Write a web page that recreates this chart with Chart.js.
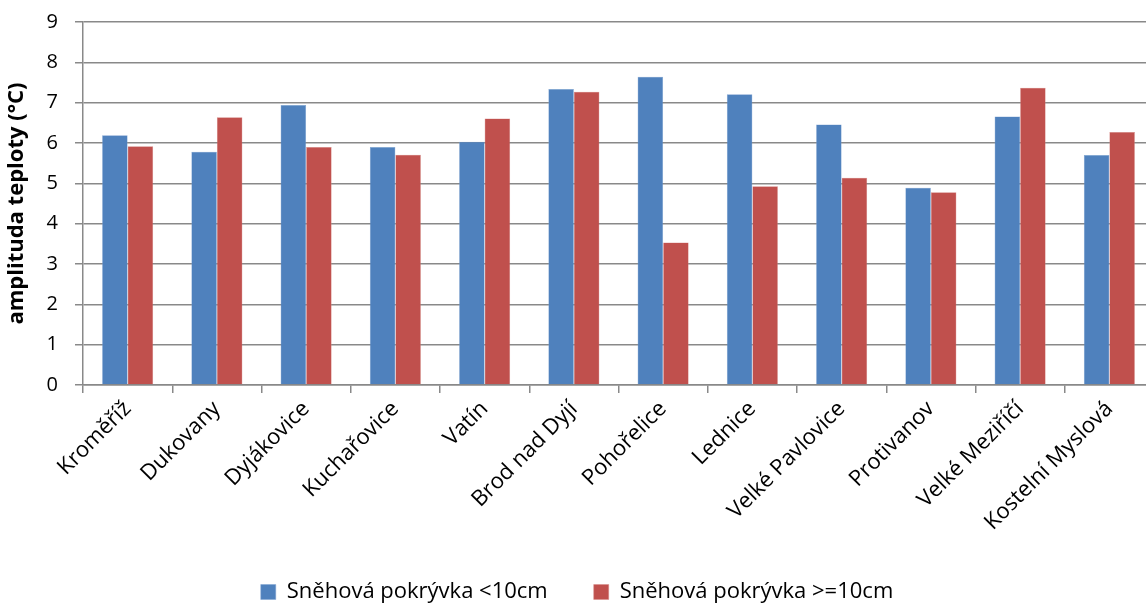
<!DOCTYPE html>
<html>
<head>
<meta charset="utf-8">
<script src="https://cdn.jsdelivr.net/npm/chart.js@4/dist/chart.umd.min.js"></script>
<style>
  html, body { margin: 0; padding: 0; background: #fff; overflow: hidden; }
  #wrap { width: 1154px; height: 607px; }
</style>
</head>
<body>
<div id="wrap"><canvas id="c"></canvas></div>
<script>
const stations = ['Kroměříž', 'Dukovany', 'Dyjákovice', 'Kuchařovice', 'Vatín', 'Brod nad Dyjí',
  'Pohořelice', 'Lednice', 'Velké Pavlovice', 'Protivanov', 'Velké Meziříčí', 'Kostelní Myslová'];
const snowBelow10 = [6.19, 5.78, 6.94, 5.90, 6.03, 7.34, 7.64, 7.21, 6.46, 4.89, 6.66, 5.70];
const snowAbove10 = [5.92, 6.64, 5.90, 5.71, 6.61, 7.27, 3.53, 4.93, 5.14, 4.78, 7.37, 6.27];
const seriesNames = ['Sněhová pokrývka <10cm', 'Sněhová pokrývka >=10cm'];

const FONT = "'Open Sans', 'Noto Sans', sans-serif";
const gridColor = '#898989';
const PLOT_LEFT = 83;     // y axis position
const PLOT_BOTTOM = 385;  // x axis position
const PAD_BOTTOM = -6;

new Chart(document.getElementById('c'), {
  type: 'bar',
  data: {
    labels: stations,
    datasets: [
      { label: seriesNames[0], data: snowBelow10, backgroundColor: '#4f81bd', borderColor: '#7fa3d1', borderWidth: 0.5 },
      { label: seriesNames[1], data: snowAbove10, backgroundColor: '#c0504d', borderColor: '#d58886', borderWidth: 0.5 }
    ]
  },
  options: {
    responsive: true,
    maintainAspectRatio: false,
    animation: false,
    layout: { padding: { top: 22, right: 0, left: 0, bottom: PAD_BOTTOM } },
    datasets: { bar: { barPercentage: 1.0, categoryPercentage: 0.572 } },
    plugins: {
      legend: {
        position: 'bottom',
        labels: {
          font: { family: FONT, size: 22 },
          color: '#000',
          boxWidth: 15,
          boxHeight: 15,
          padding: 46
        }
      },
      tooltip: { enabled: false }
    },
    scales: {
      x: {
        offset: true,
        grid: { offset: true, drawOnChartArea: false, color: gridColor, lineWidth: 1.5, tickLength: 8, tickColor: gridColor },
        border: { color: gridColor, width: 1.5 },
        ticks: { font: { family: FONT, size: 22 }, color: '#000', maxRotation: 45, minRotation: 45, padding: 3 },
        afterFit(scale) {
          const ch = scale.chart;
          scale.height = ch.height - PAD_BOTTOM - ch.legend.height - PLOT_BOTTOM;
          scale.paddingLeft = 0;
          scale.paddingRight = 0;
        }
      },
      y: {
        min: 0, max: 9,
        grid: { color: gridColor, lineWidth: 1.5, tickLength: 8, tickColor: gridColor },
        border: { color: gridColor, width: 1.5 },
        ticks: { stepSize: 1, font: { family: FONT, size: 20 }, color: '#000', padding: 17 },
        title: { display: true, text: 'amplituda teploty (°C)', font: { family: FONT, size: 22, weight: 'bold' }, color: '#000', padding: 4 },
        afterFit(scale) {
          scale.width = PLOT_LEFT;
          scale.paddingTop = 0;
          scale.paddingBottom = 0;
        }
      }
    }
  }
});
</script>
</body>
</html>
